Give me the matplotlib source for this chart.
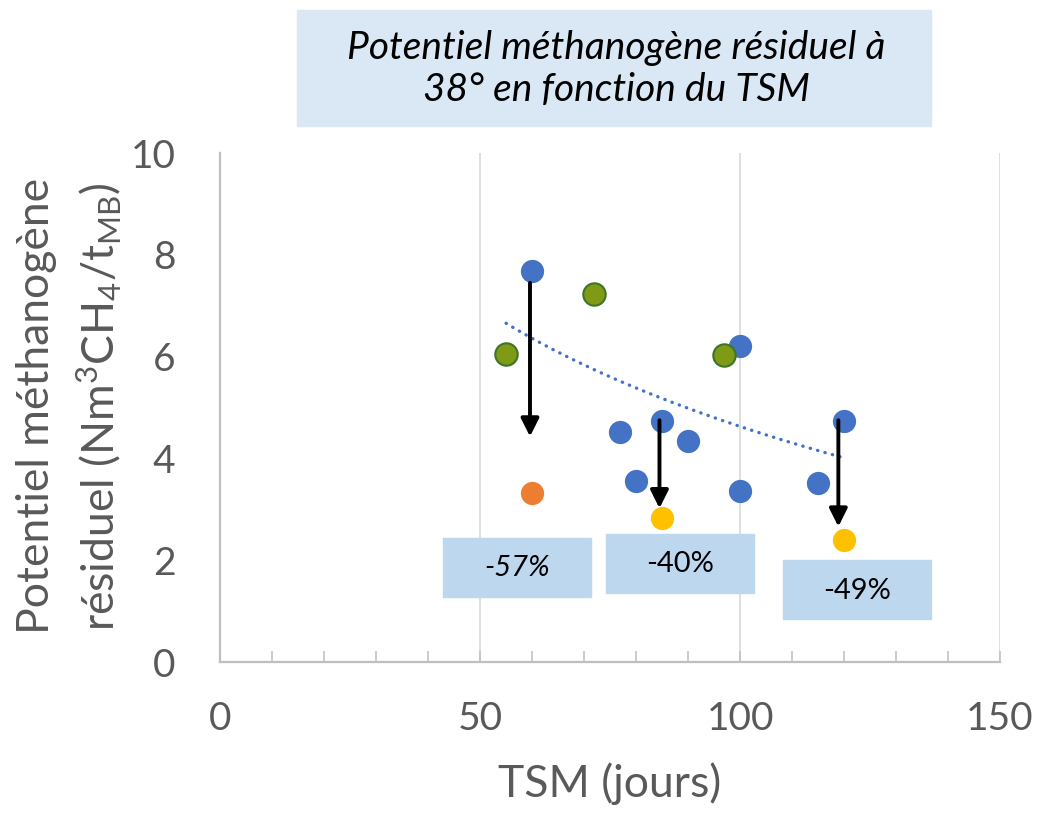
import numpy as np
import matplotlib.pyplot as plt
from matplotlib.patches import Rectangle

plt.rcParams['font.family'] = ['Lato', 'DejaVu Sans']
plt.rcParams['mathtext.default'] = 'regular'

# points mesurés (TSM en jours, potentiel en Nm3CH4/tMB)
tsm_bleu = [60, 77, 80, 85, 90, 100, 100, 115, 120]
pmr_bleu = [7.69, 4.51, 3.55, 4.73, 4.34, 6.21, 3.36, 3.52, 4.73]
tsm_vert = [55, 72, 97]
pmr_vert = [6.06, 7.24, 6.03]
tsm_orange = [60]
pmr_orange = [3.33]
tsm_jaune = [85, 120]
pmr_jaune = [2.83, 2.40]

# flèches de baisse et étiquettes
fleche_x = [59.6, 84.5, 118.9]
fleche_haut = [7.45, 4.75, 4.75]
fleche_bas = [4.43, 3.02, 2.66]
baisses = ["-57%", "-40%", "-49%"]

GRIS = "#595959"
BLEU = "#4472C4"

fig = plt.figure(figsize=(10.37, 8.14), dpi=100)
ax = fig.add_axes([0.2122, 0.1867, 0.7522, 0.6253])

# courbe de tendance logarithmique sur les points bleus + verts
x_fit = np.array(tsm_bleu + tsm_vert, dtype=float)
y_fit = np.array(pmr_bleu + pmr_vert, dtype=float)
b, a = np.polyfit(np.log(x_fit), y_fit, 1)
xx = np.linspace(x_fit.min(), x_fit.max(), 200)
ax.plot(xx, a + b * np.log(xx), color=BLEU, lw=2.4,
        linestyle=(0, (0.1, 2.2)), dash_capstyle="round", zorder=2)

ax.scatter(tsm_bleu, pmr_bleu, s=280, color=BLEU, zorder=3, linewidths=0)
ax.scatter(tsm_vert, pmr_vert, s=260, color="#7F9A14", edgecolors="#3D7526",
           linewidths=1.5, zorder=3)
ax.scatter(tsm_orange, pmr_orange, s=280, color="#ED7D31", zorder=3, linewidths=0)
ax.scatter(tsm_jaune, pmr_jaune, s=280, color="#FFC000", zorder=3, linewidths=0)

for x, y0, y1 in zip(fleche_x, fleche_haut, fleche_bas):
    ax.annotate("", xy=(x, y1), xytext=(x, y0),
                arrowprops=dict(arrowstyle="-|>", color="black", lw=2.8,
                                mutation_scale=27, shrinkA=0, shrinkB=0),
                zorder=4)

# cadres des pourcentages
cadres = [(42.8, 1.28), (74.2, 1.36), (108.2, 0.84)]
styles = ["italic", "normal", "normal"]
for (x0, y0), txt, st in zip(cadres, baisses, styles):
    ax.add_patch(Rectangle((x0, y0), 28.5, 1.16, color="#BDD7EE", zorder=2))
    ax.text(x0 + 14.25, y0 + 0.56, txt, ha="center", va="center",
            fontsize=21, style=st, color="black", zorder=5)

ax.set_xlim(0, 150)
ax.set_ylim(0, 10)
ax.set_xticks([0, 50, 100, 150])
ax.set_xticks(np.arange(0, 151, 10), minor=True)
ax.set_yticks([0, 2, 4, 6, 8, 10])
ax.grid(axis="x", which="major", color="#D9D9D9", lw=1.2)
ax.tick_params(axis="x", which="both", direction="in", length=8, width=1.1,
               color="#BFBFBF", labelsize=28, labelcolor=GRIS, pad=28)
ax.tick_params(axis="y", length=0, labelsize=28, labelcolor=GRIS, pad=32)
for s in ["top", "right"]:
    ax.spines[s].set_visible(False)
for s in ["left", "bottom"]:
    ax.spines[s].set_color("#BFBFBF")
    ax.spines[s].set_linewidth(1.6)

# titres
fig.add_artist(Rectangle((0.2864, 0.8452), 0.6114, 0.1425,
                         transform=fig.transFigure, color="#DAE7F4"))
fig.text(0.594, 0.915, "Potentiel méthanogène résiduel à\n38° en fonction du TSM",
         ha="center", va="center", fontsize=28, style="italic", linespacing=1.22)
fig.text(0.588, 0.0209, "TSM (jours)", ha="center", va="baseline",
         fontsize=32, color=GRIS)
fig.text(0.035, 0.501, "Potentiel méthanogène", rotation=90, ha="center",
         va="center", fontsize=32, color=GRIS)
fig.text(0.096, 0.501, "résiduel (Nm$^{3}$CH$_{4}$/t$_{MB}$)", rotation=90,
         ha="center", va="center", fontsize=32, color=GRIS)

fig.savefig("out.png", dpi=100)
